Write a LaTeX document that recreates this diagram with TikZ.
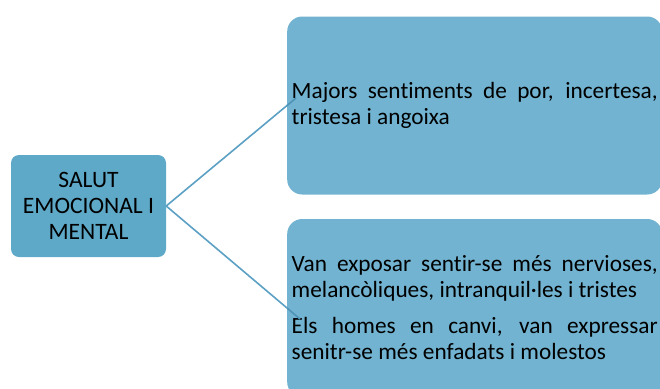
\documentclass[tikz,border=0pt]{standalone}
\usepackage{fontspec}
\setmainfont{Carlito}[Ligatures={TeX,NoCommon}]
\usetikzlibrary{positioning}

\definecolor{rootblue}{RGB}{94,169,200}
\definecolor{leafblue}{RGB}{113,179,208}
\definecolor{linkblue}{RGB}{92,160,196}
\definecolor{tipblue}{RGB}{78,148,184}

\begin{document}
\begin{tikzpicture}[x=1pt, y=-1pt,
  root/.style={fill=rootblue, rounded corners=8pt, align=center, inner sep=0pt, minimum width=155pt, minimum height=102pt, font=\fontsize{23.5}{26}\selectfont},
  leaf/.style={fill=leafblue, rounded corners=15pt, align=justify, inner xsep=4.5pt, inner ysep=0pt, text width=366pt, minimum height=178pt, font=\fontsize{23.3}{26}\selectfont},
  link/.style={draw=linkblue, line width=1.6pt}]
\useasboundingbox (0,0) rectangle (660,388);
\clip (0,0) rectangle (660,388);
\node[root] (salut) at (88.5,206) {SALUT\\EMOCIONAL I\\MENTAL};
\node[leaf, anchor=west] (maj) at (287,105.5) {Majors sentiments de por, incertesa,\linebreak tristesa i angoixa};
\node[leaf, anchor=west] (van) at (287,308) {Van exposar sentir-se més nervioses,\linebreak melancòliques, intranquil·les i tristes\\[10pt]Els homes en canvi, van expressar\linebreak senitr-se més enfadats i molestos};
\foreach \b in {maj, van} \draw[link] (salut.east) -- (\b.west);
% short stubs seen through the boxes
\coordinate (majtip) at (296,98);
\coordinate (vantip) at (300,319);
\draw[link, draw=tipblue] (maj.west) -- (majtip);
\draw[link, draw=tipblue] (van.west) -- (vantip);
\end{tikzpicture}
\end{document}
